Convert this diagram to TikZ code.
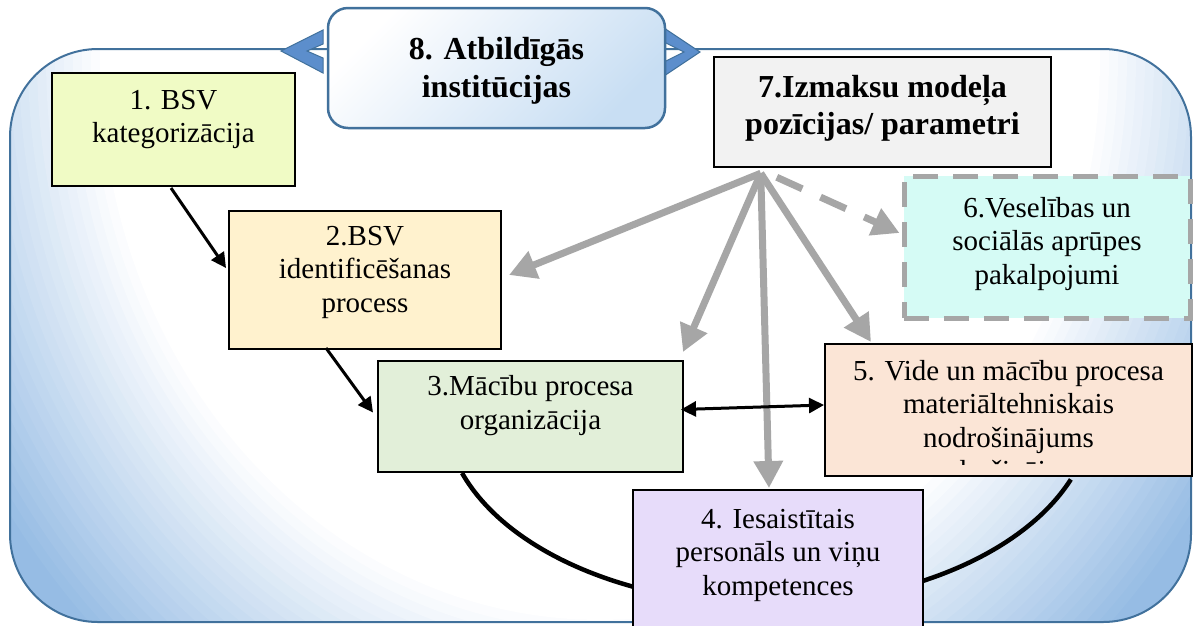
\documentclass[tikz,border=0pt]{standalone}
\usepackage{fontspec}
\setmainfont{Liberation Serif}
\usetikzlibrary{arrows.meta,calc}

\definecolor{frameblue}{RGB}{65,113,156}
\definecolor{glowblue}{RGB}{150,188,228}
\definecolor{headblue}{RGB}{200,222,243}
\definecolor{chevblue}{RGB}{92,142,204}
\definecolor{katfill}{RGB}{240,251,197}
\definecolor{idfill}{RGB}{255,242,206}
\definecolor{orgfill}{RGB}{226,239,217}
\definecolor{persfill}{RGB}{231,220,250}
\definecolor{videfill}{RGB}{251,229,214}
\definecolor{vesfill}{RGB}{213,251,245}
\definecolor{izmfill}{RGB}{242,242,242}
\definecolor{costgray}{RGB}{166,166,166}

\pgfdeclarelayer{frame}
\pgfdeclarelayer{ring}
\pgfsetlayers{frame,ring,main}

\begin{document}
\begin{tikzpicture}[x=1pt,y=-1pt,
    box/.style={draw,line width=2pt,inner sep=0pt},
    txt/.style={align=center,font=\fontsize{29}{33.5}\selectfont},
    head/.style={align=center,font=\bfseries\fontsize{32}{37.5}\selectfont},
    flow/.style={line width=3pt,-{Triangle[length=15pt,width=15pt]}},
    cost/.style={draw=costgray,line width=7pt,-{Triangle[length=27pt,width=28pt]}}]
\useasboundingbox (0,0) rectangle (1193,625);
\clip (0,0) rectangle (1193,625);

% outer frame, blue towards the edges
\begin{pgfonlayer}{frame}
\begin{scope}
  \clip[rounded corners=88pt] (10,49) rectangle (1191,622);
  \fill[glowblue] (0,0) rectangle (1193,625);
  \foreach \k in {0,...,25} {
    \pgfmathsetmacro\tint{100-4*\k}
    \pgfmathsetmacro\rx{500*(1.45-0.018*\k)}
    \pgfmathsetmacro\ry{560*(1.45-0.018*\k)}
    \fill[glowblue!\tint!white] (600,60) ellipse [x radius=\rx, y radius=\ry];
  }
\end{scope}
\draw[frameblue,line width=2pt,rounded corners=88pt] (10,49) rectangle (1191,622);
\end{pgfonlayer}

% chevrons and the title box
\filldraw[fill=chevblue,draw=frameblue,line width=1pt] (281,51) -- (323,30) -- (323,44) -- (307,51) -- (323,58) -- (323,73) -- cycle;
\filldraw[fill=chevblue,draw=frameblue,line width=1pt] (700,52) -- (664,28) -- (664,42) -- (684,52) -- (664,62) -- (664,76) -- cycle;
\node[draw=frameblue,line width=2.5pt,rounded corners=20pt,top color=white,bottom color=headblue,shading angle=45,minimum width=337,minimum height=120] (b8) at (496.5,68) {};
\node[head] (t8) at ($(b8.center)+(0,3)$) {8. Atbildīgās\\institūcijas};

\node[box,fill=katfill,minimum width=243,minimum height=113] (b1) at (173.5,129.5) {};
\node[box,fill=idfill,minimum width=272,minimum height=138] (b2) at (365,280) {};
\node[box,fill=orgfill,minimum width=305,minimum height=111] (b3) at (530.5,416.5) {};
\node[box,fill=persfill,minimum width=290,minimum height=150] (b4) at (778,565) {};
\node[box,fill=videfill,minimum width=367,minimum height=132] (b5) at (1008.5,410) {};
\node[fill=vesfill,draw=costgray,line width=5pt,dash pattern=on 25pt off 15pt,minimum width=286,minimum height=142] (b6) at (1047,247) {};
\node[box,line width=2.5pt,fill=izmfill,minimum width=337,minimum height=110] (b7) at (882.5,112) {};

\begin{pgfonlayer}{ring}
\draw[line width=4.5pt] ($(b3.south west)+(85,0)$) arc[start angle=161,end angle=21,x radius=324,y radius=195];
\end{pgfonlayer}

\node[txt] (t1) at ($(b1.center)+(0,-10)$) {1. BSV\\kategorizācija};
\node[txt] (t2) at ($(b2.center)+(0,-8)$) {2.BSV\\identificēšanas\\process};
\node[txt] (t3) at ($(b3.center)+(0,-11)$) {3.Mācību procesa\\organizācija};
\node[txt] (t4) at ($(b4.center)+(0,-10)$) {4. Iesaistītais\\personāls un viņu\\kompetences};
\begin{scope}
  \clip (b5.north west) rectangle ($(b5.south east)+(0,-13)$);
  \node[txt] (t5) at ($(b5.center)+(0,13.5)$) {5. Vide un mācību procesa\\materiāltehniskais\\nodrošinājums\\nodrošinājums};
\end{scope}
\node[txt] (t6) at ($(b6.center)+(0,-3)$) {6.Veselības un\\sociālās aprūpes\\pakalpojumi};
\node[head] (t7) at ($(b7.center)+(0,-3.5)$) {7.Izmaksu modeļa\\pozīcijas/ parametri};

% cost model links
\coordinate (hub) at ($(b7.south west)+(48,5)$);
\draw[cost] (hub) -- ($(b2.east)+(7,-5)$);
\draw[cost] (hub) -- ($(b3.north east)+(-1,-8)$);
\draw[cost] (hub) -- ($(b4.north west)+(137,-1)$);
\draw[cost] (hub) -- ($(b5.north west)+(47,-1)$);
\draw[cost,dash pattern=on 28pt off 20pt] ($(hub)+(16,4)$) -- ($(b6.west)+(-2,-14)$);

\draw[flow] ($(b1.south west)+(120,1)$) -- ($(b2.west)+(-2,-12)$);
\draw[flow] ($(b2.south west)+(98,-2)$) -- ($(b3.west)+(-4,-4)$);
\draw[line width=3pt,{Triangle[length=15pt,width=15pt]}-{Triangle[length=15pt,width=15pt]}] ($(b3.east)+(-3,-7)$) -- ($(b5.west)+(0,-5)$);
\end{tikzpicture}
\end{document}
